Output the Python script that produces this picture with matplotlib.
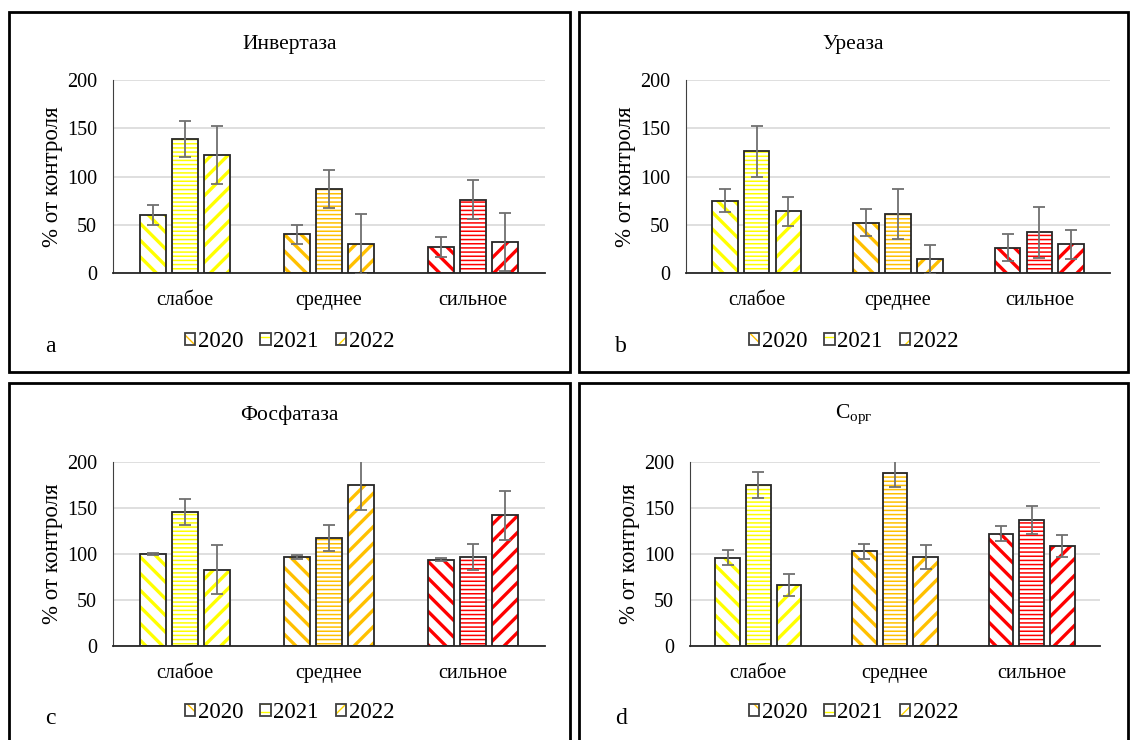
import numpy as np
import matplotlib
matplotlib.use("Agg")
import matplotlib.pyplot as plt
from matplotlib.patches import Patch

plt.rcParams['font.family'] = ['Liberation Serif', 'DejaVu Serif']
plt.rcParams['mathtext.fontset'] = 'custom'
plt.rcParams['mathtext.rm'] = 'Liberation Serif'

categories = ["слабое", "среднее", "сильное"]
years = ["2020", "2021", "2022"]
cat_colors = ["#FFFF00", "#FFC000", "#FF0000"]
legend_colors = ["#FFC000", "#FFFF00", "#FFD700"]
year_hatches = ["\\\\", "----", "//"]
hatch_widths = [2.4, 1.1, 2.4]

titles = ["Инвертаза", "Уреаза", "Фосфатаза", r"C$_{\mathrm{орг}}$"]
panel_labels = ["a", "b", "c", "d"]

# values[year][category]
invertase = [[60, 40, 27], [139, 87, 76], [122, 30, 32]]
invertase_err = [[10, 10, 10], [19, 20, 20], [30, 31, 30]]
urease = [[75, 52, 26], [126, 61, 42], [64, 14, 30]]
urease_err = [[12, 14, 14], [26, 26, 26], [15, 15, 15]]
phosphatase = [[100, 97, 94], [146, 117, 97], [83, 175, 142]]
phosphatase_err = [[1, 2, 2], [14, 14, 14], [27, 27, 27]]
corg = [[96, 103, 122], [175, 188, 137], [66, 97, 109]]
corg_err = [[8, 8, 8], [14, 15, 15], [12, 13, 12]]

datasets = [(invertase, invertase_err), (urease, urease_err),
            (phosphatase, phosphatase_err), (corg, corg_err)]

W, H = 1131, 740
fig = plt.figure(figsize=(W / 100, H / 100), dpi=100)

# panel borders and axes boxes in pixels: (x0, y0, x1, y1)
borders = [(9, 12, 570, 372), (579, 12, 1128, 372),
           (9, 383, 570, 745), (579, 383, 1128, 745)]
axes_px = [(113, 80, 545, 273), (686, 80, 1110, 273),
           (113, 462, 545, 646), (690, 462, 1100, 646)]


def frac(box):
    x0, y0, x1, y1 = box
    return [x0 / W, 1 - y1 / H, (x1 - x0) / W, (y1 - y0) / H]


for i in range(4):
    bx = borders[i]
    fig.patches.append(plt.Rectangle((bx[0] / W, 1 - bx[3] / H),
                                     (bx[2] - bx[0]) / W, (bx[3] - bx[1]) / H,
                                     transform=fig.transFigure, fill=False,
                                     edgecolor="black", linewidth=2, zorder=0))
    ax = fig.add_axes(frac(axes_px[i]))
    vals, errs = datasets[i]
    x = np.arange(len(categories))
    bw = 0.18
    step = 0.225
    for j in range(3):
        pos = x + (j - 1) * step
        with plt.rc_context({'hatch.linewidth': hatch_widths[j]}):
            for k in range(3):
                ax.bar(pos[k], vals[j][k], bw, color="white", edgecolor=cat_colors[k],
                       hatch=year_hatches[j], linewidth=0, zorder=2)
        ax.bar(pos, vals[j], bw, fill=False, edgecolor="#262626", linewidth=1.3, zorder=3)
        ax.errorbar(pos, vals[j], yerr=errs[j], fmt="none", ecolor="#707070",
                    elinewidth=1.3, capsize=4.5, capthick=1.3, zorder=4)
    ax.set_xlim(-0.5, 2.5)
    ax.set_ylim(0, 200)
    ax.set_yticks([0, 50, 100, 150, 200])
    ax.set_xticks(x)
    ax.set_xticklabels(categories)
    ax.tick_params(axis="both", length=0, labelsize=14.5)
    ax.tick_params(axis="x", pad=13)
    ax.tick_params(axis="y", pad=11.5)
    ax.grid(axis="y", color="#d9d9d9", linewidth=1.2, zorder=0)
    ax.set_axisbelow(True)
    for s in ["top", "right"]:
        ax.spines[s].set_visible(False)
    ax.spines["left"].set_color("#404040")
    ax.spines["bottom"].set_color("#262626")
    ax.spines["bottom"].set_linewidth(1.3)
    ax.set_ylabel("% от контроля", fontsize=16.5, labelpad=3)

    cx = (bx[0] + bx[2]) / 2 / W
    fig.text(cx, 1 - (bx[1] + 32) / H, titles[i], fontsize=15.5,
             ha="center", va="center")

    handles = []
    for j in range(3):
        with plt.rc_context({'hatch.linewidth': hatch_widths[j]}):
            fill = Patch(facecolor="white", edgecolor=legend_colors[j],
                         hatch=year_hatches[j].replace("----", "--"), linewidth=0)
        outline = Patch(facecolor="none", edgecolor="#404040", linewidth=1.3)
        handles.append((fill, outline))
    ax.legend(handles, years, loc="center",
              bbox_to_anchor=(cx, 1 - (bx[1] + 330) / H),
              bbox_transform=fig.transFigure,
              ncol=3, frameon=False, fontsize=16.5, handlelength=0.45,
              handleheight=0.45, handletextpad=0.12, columnspacing=0.75)
    fig.text((bx[0] + 36) / W, 1 - (bx[1] + 335) / H,
             panel_labels[i], fontsize=17, ha="left", va="center")

fig.savefig("out.png", dpi=100)
